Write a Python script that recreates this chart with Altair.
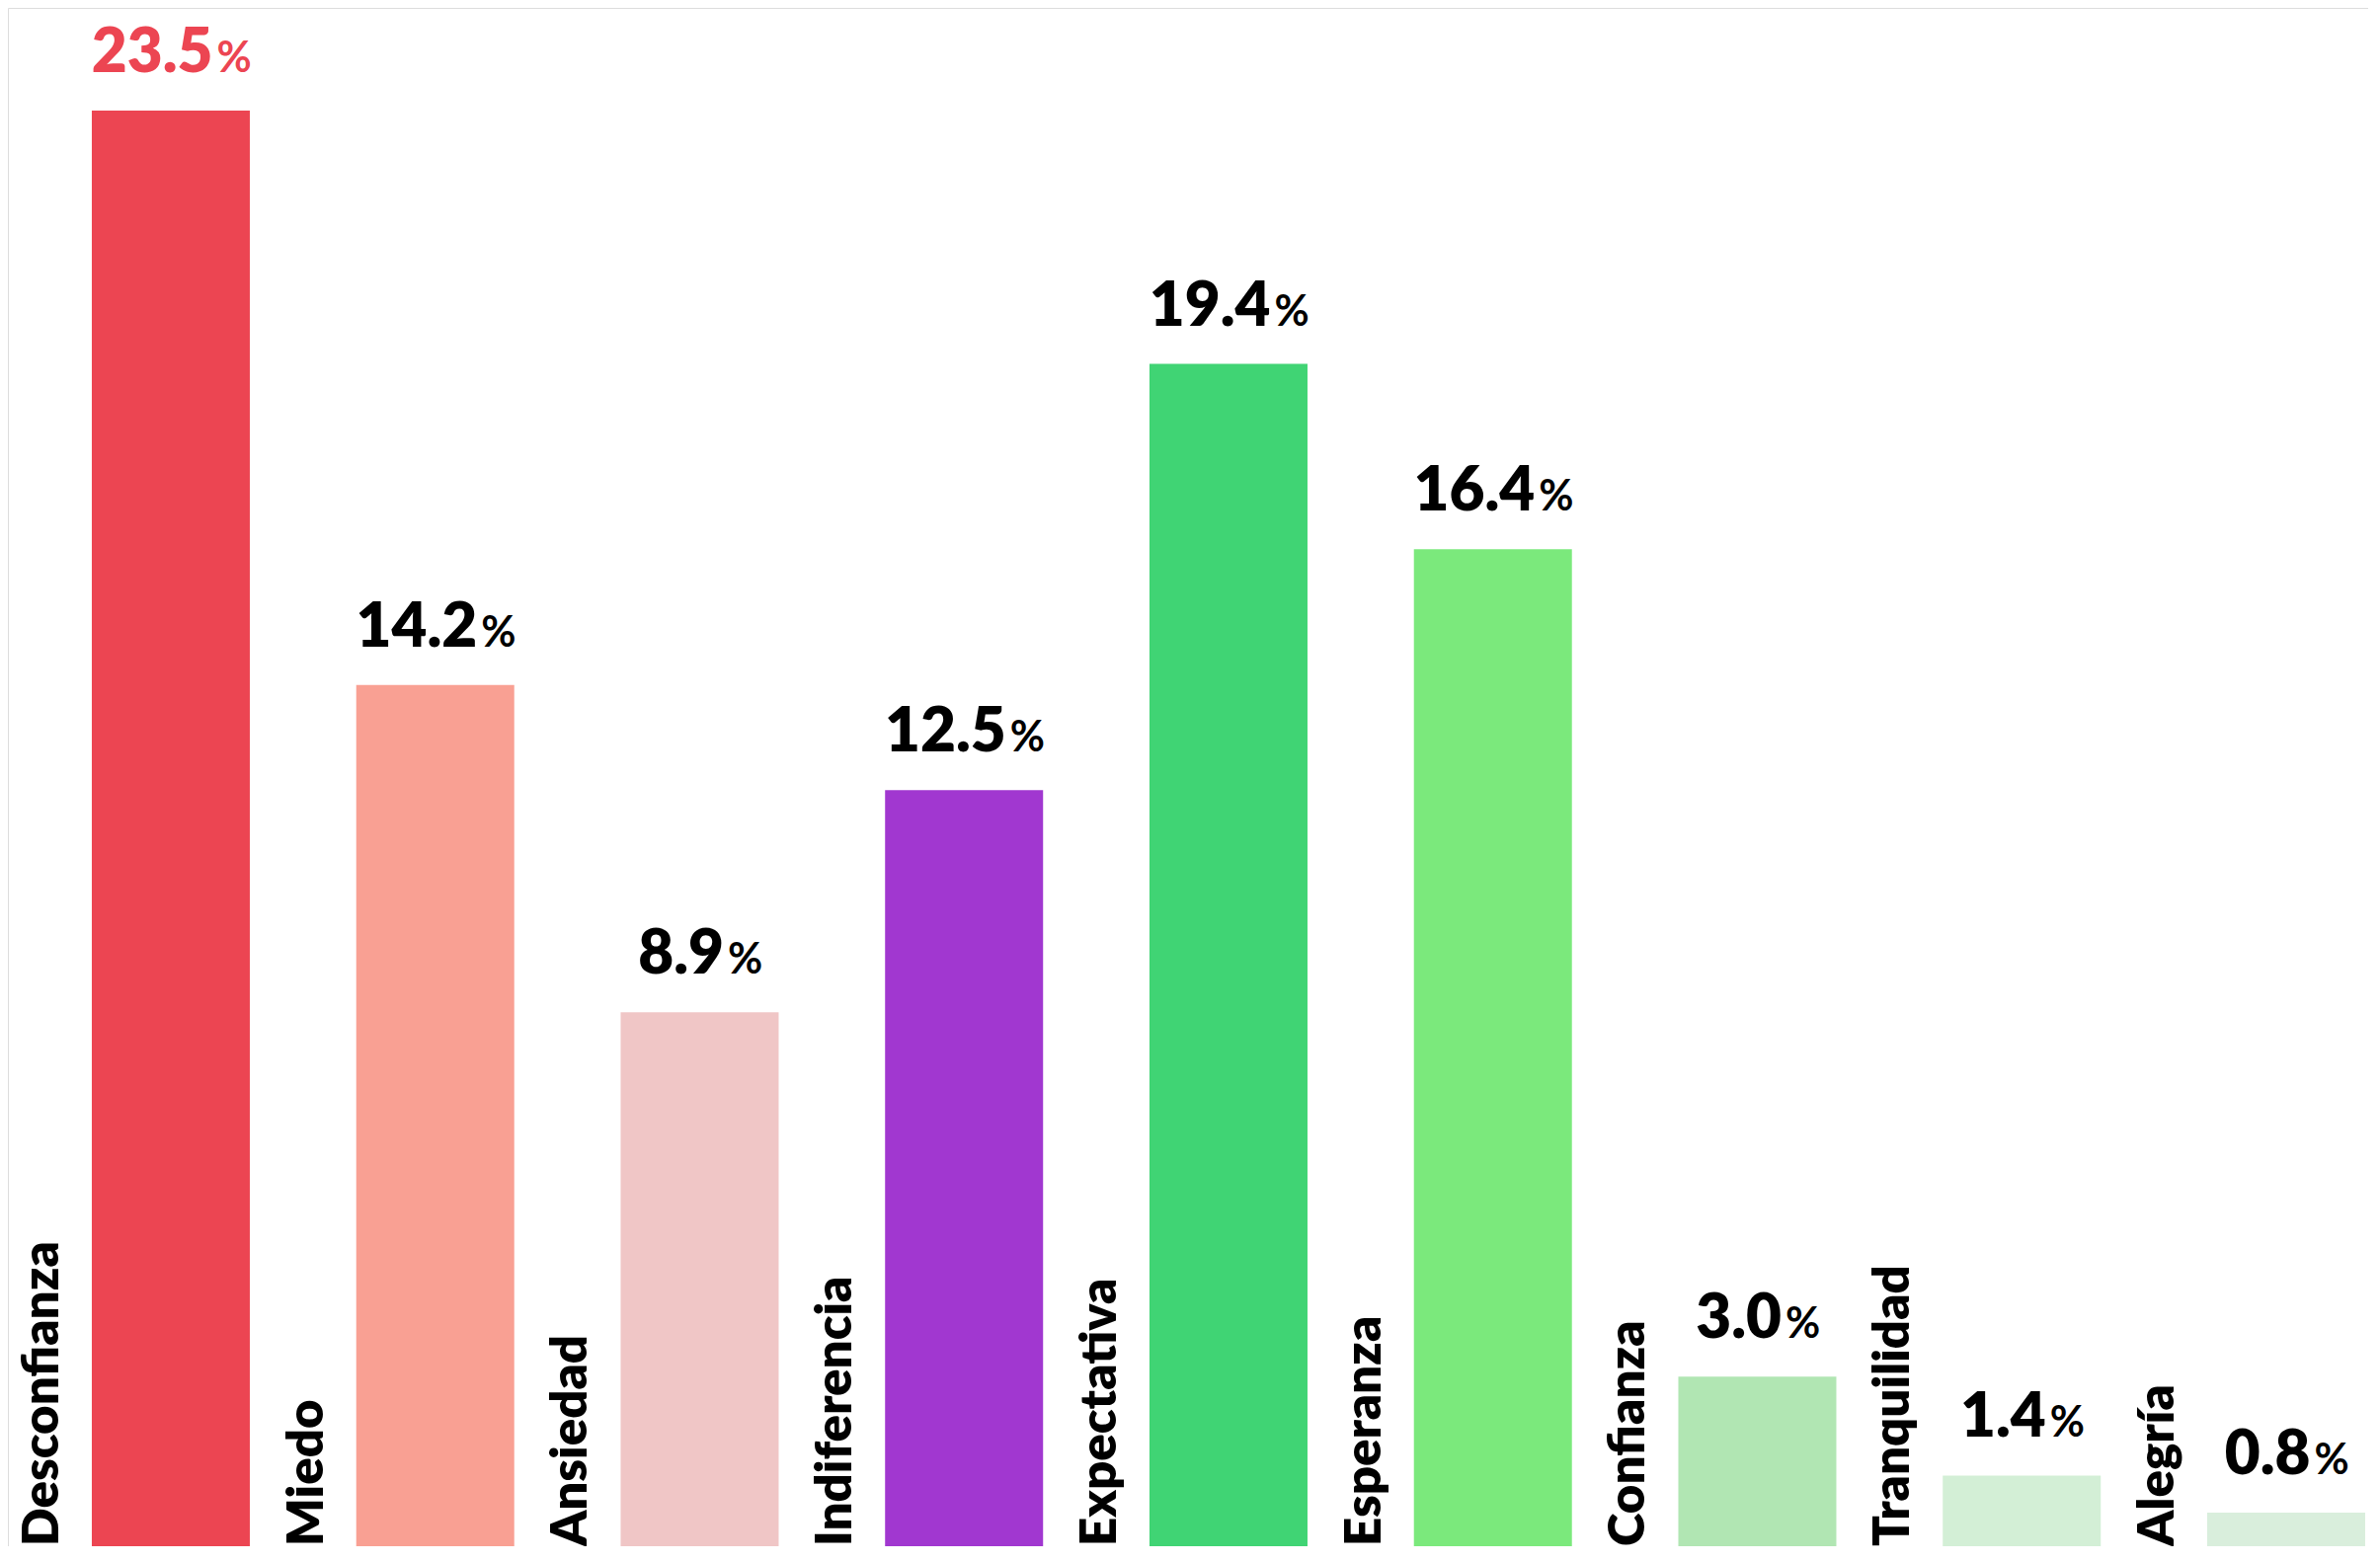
import altair as alt
import pandas as pd

categories = ["Desconfianza", "Miedo", "Ansiedad", "Indiferencia", "Expectativa",
              "Esperanza", "Confianza", "Tranquilidad", "Alegría"]
values = [23.5, 14.2, 8.9, 12.5, 19.4, 16.4, 3.0, 1.4, 0.8]
bar_colors = ["#EC4552", "#F9A093", "#F0C6C6", "#A137D0", "#40D474",
              "#7BE97C", "#B1E6B3", "#D3EFD6", "#D9EEDC"]

df = pd.DataFrame({"cat": categories, "val": values})
df["num"] = [f"{v:.1f}" for v in values]

W, H = 2390, 1558
STEP = 267.75
X0 = 31.1
FONT = "Lato"
WEIGHT = 800
HALF = STEP / 2

xs = alt.Scale(domain=categories, range=[X0, X0 + STEP * len(categories)],
               paddingInner=0, paddingOuter=0)
ys = alt.Scale(domain=[0, 1574 / 62.55], range=[1574, 0], nice=False, zero=False)

X = alt.X("cat:N", scale=xs, axis=None, sort=categories)
Y = alt.Y("val:Q", scale=ys, axis=None)

base = alt.Chart(df)

bars = base.mark_bar(width=160).encode(
    x=X, y=Y,
    color=alt.Color("cat:N", scale=alt.Scale(domain=categories, range=bar_colors), legend=None),
)

label_color = alt.condition(alt.datum.cat == "Desconfianza", alt.value("#EC4552"), alt.value("#000000"))

nums = base.transform_calculate(
    numW="(length(datum.num) - 1) * 36 + 16",
    off=f"(datum.numW - 4 - 35) / 2 + {HALF}",
).mark_text(font=FONT, fontWeight=WEIGHT, fontSize=62, align="right",
            baseline="alphabetic", dy=-39).encode(
    x=X, y=Y, xOffset=alt.XOffset("off:Q", scale=None),
    text="num:N", color=label_color,
)

pcts = base.transform_calculate(
    numW="(length(datum.num) - 1) * 36 + 16",
    off=f"(datum.numW - 4 - 35) / 2 + 4 + {HALF}",
    pct="'%'",
).mark_text(font=FONT, fontWeight="bold", fontSize=43, align="left",
            baseline="alphabetic", dy=-39).encode(
    x=X, y=Y, xOffset=alt.XOffset("off:Q", scale=None),
    text="pct:N", color=label_color,
)

cats = base.mark_text(font=FONT, fontWeight=WEIGHT, fontSize=51, angle=270,
                      align="left", baseline="alphabetic", dy=-114, color="#000000").encode(
    x=X, y=alt.value(H), text="cat:N",
)

chart = alt.layer(bars, nums, pcts, cats).properties(
    width=W, height=H, padding=0,
    autosize=alt.AutoSizeParams(type="none"),
).configure_view(stroke=None).configure(background="white")

chart.save("out.html", embed_options={"renderer": "svg", "actions": False})
